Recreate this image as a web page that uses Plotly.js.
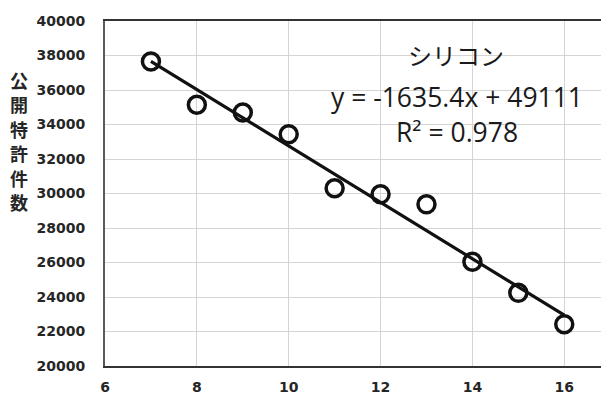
<!DOCTYPE html>
<html>
<head>
<meta charset="utf-8">
<script src="https://cdn.plot.ly/plotly-3.0.1.min.js"></script>
<style>
  html, body { margin: 0; padding: 0; background: #fff; }
  #chart { width: 601px; height: 395px; }
</style>
</head>
<body>
<div id="chart"></div>
<script>
// Published patent applications for silicon by year index
const years = [7, 8, 9, 10, 11, 12, 13, 14, 15, 16];
const patentCounts = [37650, 35140, 34690, 33440, 30300, 29950, 29370, 26040, 24240, 22420];

// Linear trend line as reported in the label
const trendSlope = -1635.4;
const trendIntercept = 49111;
const trendR2 = 0.978;
const seriesName = 'シリコン';
const yTitleChars = ['公', '開', '特', '許', '件', '数'];

const trendX = [years[0], years[years.length - 1]];
const trendY = trendX.map(x => trendSlope * x + trendIntercept);

const eqText = 'y = ' + trendSlope + 'x + ' + trendIntercept;
const r2Text = 'R² = ' + trendR2.toFixed(3);

const points = {
  x: years,
  y: patentCounts,
  type: 'scatter',
  mode: 'markers',
  marker: {
    symbol: 'circle-open',
    size: 17,
    color: '#111',
    line: { color: '#111', width: 3.5 }
  },
  hoverinfo: 'skip'
};

const trend = {
  x: trendX,
  y: trendY,
  type: 'scatter',
  mode: 'lines',
  line: { color: '#111', width: 3.2 },
  hoverinfo: 'skip'
};

const tickFont = { family: 'DejaVu Sans', size: 14, color: '#262626', weight: 'bold' };
const labelFont = { family: 'Open Sans', size: 26.5, color: '#1a1a1a' };

// Plot area geometry in pixels, used to place the stacked vertical title
const plotTop = 21, plotBottom = 366, plotLeft = 105, plotWidth = 496;
const toPaperY = py => (plotBottom - py) / (plotBottom - plotTop);
const toPaperX = px => (px - plotLeft) / plotWidth;

const titleAnnotations = yTitleChars.map((ch, i) => ({
  xref: 'paper', yref: 'paper',
  x: toPaperX(19), y: toPaperY(80 + i * 24.4),
  xanchor: 'center', yanchor: 'middle',
  text: ch,
  showarrow: false,
  font: { family: 'Noto Sans CJK JP', size: 18, color: '#262626', weight: 'bold' }
}));

const layout = {
  width: 601,
  height: 395,
  margin: { l: 105, r: 0, t: 21, b: 29, pad: 0 },
  paper_bgcolor: '#fff',
  plot_bgcolor: '#fff',
  showlegend: false,
  xaxis: {
    range: [6, 16.8],
    tickvals: [6, 8, 10, 12, 14, 16],
    showgrid: true,
    gridcolor: '#d4d4d4',
    gridwidth: 1,
    zeroline: false,
    showline: true,
    linecolor: '#333',
    linewidth: 2,
    mirror: true,
    ticks: 'outside',
    ticklen: 7,
    tickcolor: 'rgba(0,0,0,0)',
    tickfont: tickFont
  },
  yaxis: {
    range: [20000, 40000],
    dtick: 2000,
    tick0: 20000,
    tickformat: 'd',
    showgrid: true,
    gridcolor: '#d4d4d4',
    gridwidth: 1,
    zeroline: false,
    showline: true,
    linecolor: '#595959',
    linewidth: 2,
    ticks: 'outside',
    ticklen: 15,
    tickcolor: 'rgba(0,0,0,0)',
    tickfont: tickFont
  },
  annotations: [
    {
      xref: 'paper', yref: 'paper',
      x: toPaperX(456), y: toPaperY(55),
      xanchor: 'center', yanchor: 'middle',
      text: seriesName,
      showarrow: false,
      font: { family: 'Noto Sans CJK JP', size: 24, color: '#1a1a1a' }
    },
    {
      xref: 'paper', yref: 'paper',
      x: toPaperX(457), y: toPaperY(97),
      xanchor: 'center', yanchor: 'middle',
      text: eqText,
      showarrow: false,
      font: labelFont
    },
    {
      xref: 'paper', yref: 'paper',
      x: toPaperX(457), y: toPaperY(132),
      xanchor: 'center', yanchor: 'middle',
      text: r2Text,
      showarrow: false,
      font: labelFont
    }
  ].concat(titleAnnotations)
};

Plotly.newPlot('chart', [points, trend], layout, { staticPlot: true, displayModeBar: false });
</script>
</body>
</html>
